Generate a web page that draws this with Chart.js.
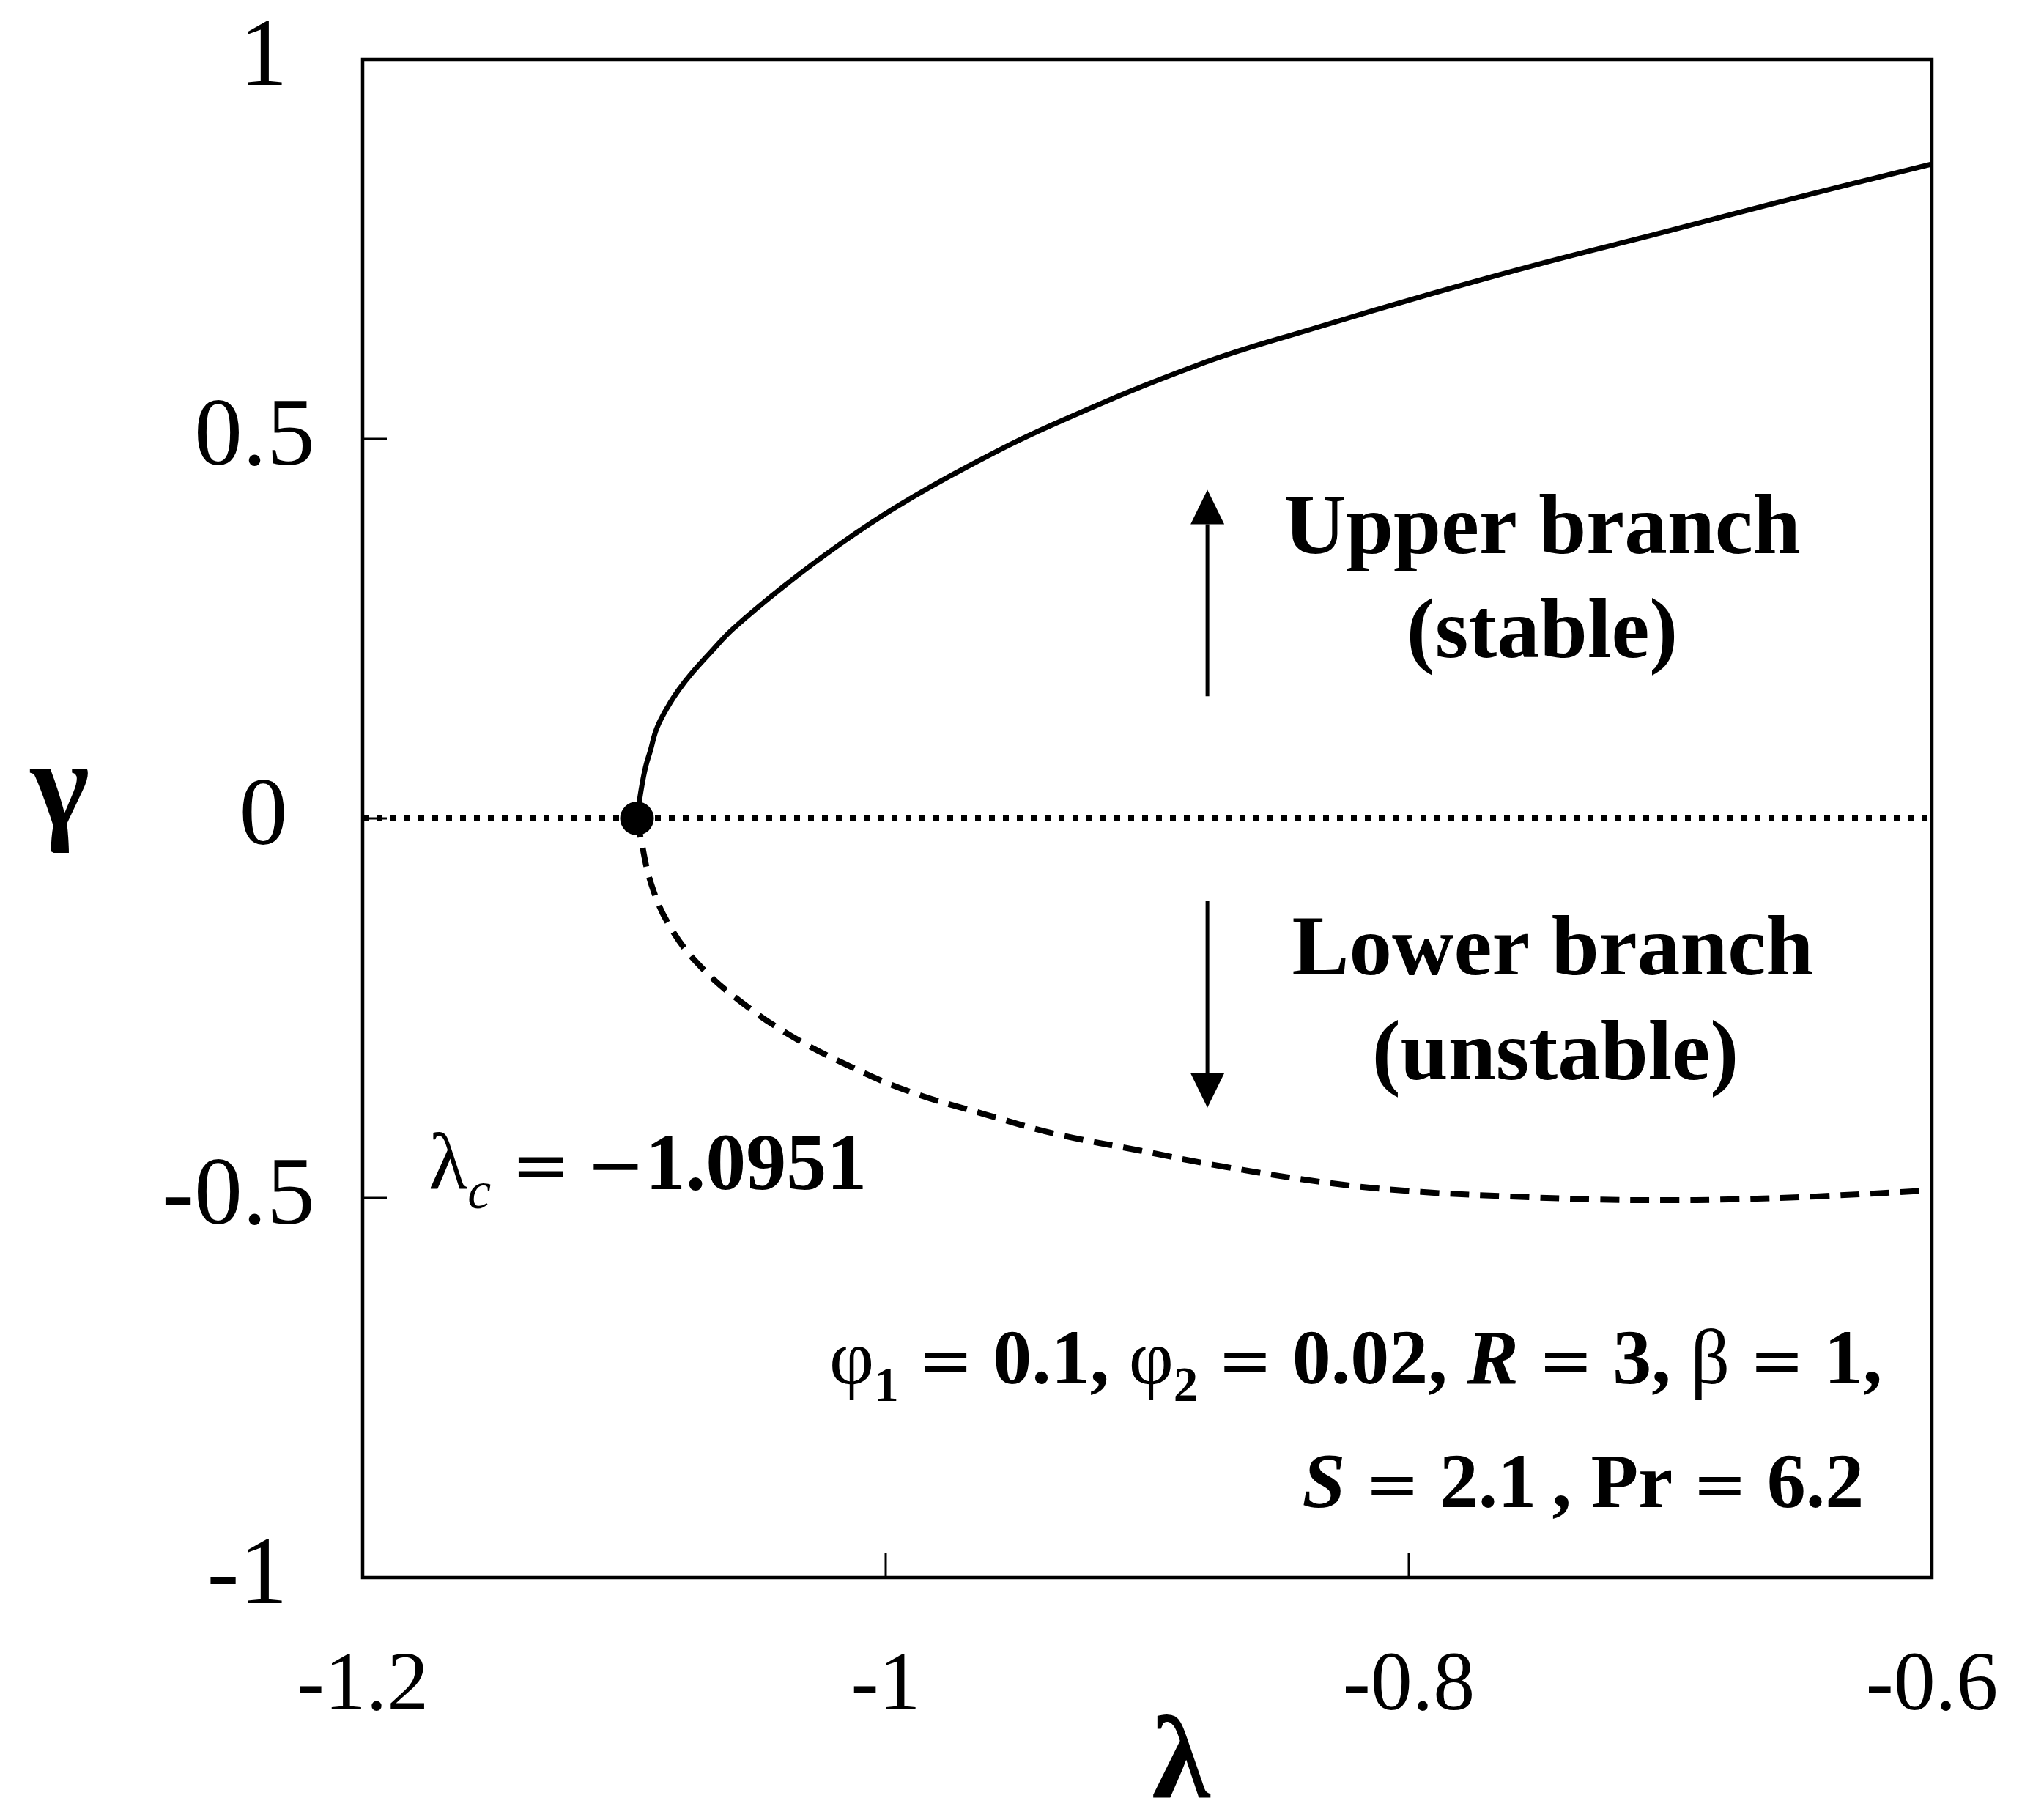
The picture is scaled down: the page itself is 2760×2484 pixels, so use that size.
<!DOCTYPE html>
<html lang="en">
<head>
<meta charset="UTF-8">
<title>Upper and lower branch solutions</title>
<script src="https://cdn.jsdelivr.net/npm/chart.js"></script>
<style>
  html, body { margin: 0; padding: 0; background: #fff; }
  #wrap { width: 2760px; height: 2484px; }
</style>
</head>
<body>
<div id="wrap"><canvas id="chart" width="2760" height="2484"></canvas></div>
<script>
// values
const upperLambda = [-1.0951, -1.0935, -1.0918, -1.0900, -1.0875, -1.0830, -1.0788, -1.0745, -1.0669, -1.0583,
                     -1.0389, -1.0176, -0.9961, -0.9695, -0.9353, -0.8801, -0.8359, -0.7916, -0.7473, -0.7028, -0.6585, -0.6];
const upperGamma  = [0, 0.038, 0.068, 0.089, 0.119, 0.149, 0.171, 0.190, 0.219, 0.250,
                     0.306, 0.361, 0.410, 0.462, 0.520, 0.598, 0.646, 0.691, 0.733, 0.772, 0.812, 0.862];

const lowerLambda = [-1.0951, -1.0938, -1.0896, -1.0824, -1.0711, -1.0552, -1.0359, -1.0134, -0.9908, -0.9619, -0.9345,
                     -0.9022, -0.8703, -0.8289, -0.7952, -0.7616, -0.7280, -0.7028, -0.6776, -0.6443, -0.6];
const lowerGamma  = [0, -0.024, -0.087, -0.143, -0.194, -0.242, -0.287, -0.327, -0.360, -0.390, -0.416,
                     -0.438, -0.459, -0.481, -0.492, -0.498, -0.502, -0.503, -0.502, -0.498, -0.490];

const baseLambda = [-1.2, -0.6];
const baseGamma = [0, 0];

const criticalLambda = [-1.0951];
const criticalGamma = [0];

const xTicks = [-1.2, -1, -0.8, -0.6];
const xTickLabels = ['-1.2', '-1', '-0.8', '-0.6'];
const yTicks = [-1, -0.5, 0, 0.5, 1];
const yTickLabels = ['-1', '-0.5', '0', '0.5', '1'];

const SERIF = '"Liberation Serif", "Times New Roman", serif';
const R = s => s + 'px ' + SERIF;
const B = s => 'bold ' + s + 'px ' + SERIF;
const I = s => 'italic ' + s + 'px ' + SERIF;
const BI = s => 'italic bold ' + s + 'px ' + SERIF;
const OP = s => s + 'px "DejaVu Serif", serif';   // wide "=" and minus signs

function toPoints(xs, ys) {
    return xs.map((x, i) => ({ x: x, y: ys[i] }));
}

// draws a row of text pieces with their own fonts, [text, font, yShift]
function drawRuns(ctx, runs, x, y, align) {
    let w = 0;
    runs.forEach(r => { ctx.font = r[1]; w += ctx.measureText(r[0]).width; });
    let cx = align === 'right' ? x - w : (align === 'center' ? x - w / 2 : x);
    ctx.textAlign = 'left';
    ctx.textBaseline = 'alphabetic';
    runs.forEach(r => {
        ctx.font = r[1];
        ctx.fillText(r[0], cx, y + (r[2] || 0));
        cx += ctx.measureText(r[0]).width;
    });
}

function arrow(ctx, x, y0, y1) {
    const dir = y1 < y0 ? -1 : 1;
    const head = 47;
    ctx.beginPath();
    ctx.moveTo(x, y0);
    ctx.lineTo(x, y1 - dir * head);
    ctx.lineWidth = 5;
    ctx.stroke();
    ctx.beginPath();
    ctx.moveTo(x, y1);
    ctx.lineTo(x - 23, y1 - dir * head);
    ctx.lineTo(x + 23, y1 - dir * head);
    ctx.closePath();
    ctx.fill();
}

function noOverflow(s) {
    s.paddingLeft = 0;
    s.paddingRight = 0;
    s.paddingTop = 0;
    s.paddingBottom = 0;
}

const framePlugin = {
    id: 'frame',
    afterDatasetsDraw(chart) {
        const ctx = chart.ctx;
        const a = chart.chartArea;
        const xs = chart.scales.x, ys = chart.scales.y;
        ctx.save();
        ctx.strokeStyle = '#000';
        // inward ticks
        ctx.lineWidth = 3;
        ctx.beginPath();
        xTicks.forEach(v => {
            const px = xs.getPixelForValue(v);
            ctx.moveTo(px, a.bottom);
            ctx.lineTo(px, a.bottom - 33);
        });
        yTicks.forEach(v => {
            const py = ys.getPixelForValue(v);
            ctx.moveTo(a.left, py);
            ctx.lineTo(a.left + 33, py);
        });
        ctx.stroke();
        ctx.lineWidth = 4.5;
        ctx.strokeRect(a.left, a.top, a.right - a.left, a.bottom - a.top);
        ctx.restore();
    },
    afterDraw(chart) {
        const ctx = chart.ctx;
        const xs = chart.scales.x, ys = chart.scales.y;
        const X = v => xs.getPixelForValue(v);
        const Y = v => ys.getPixelForValue(v);
        ctx.save();
        ctx.fillStyle = '#000';
        ctx.strokeStyle = '#000';

        // axis titles
        drawRuns(ctx, [['γ', B(172)]], 82, 1128, 'center');
        drawRuns(ctx, [['λ', B(162)]], 1612, 2453, 'center');

        // branch labels and arrows
        drawRuns(ctx, [['Upper branch', B(117)]], X(-0.749), Y(0.3495), 'center');
        drawRuns(ctx, [['(stable)', B(117)]], X(-0.749), Y(0.2125), 'center');
        drawRuns(ctx, [['Lower branch', B(117)]], X(-0.745), Y(-0.2056), 'center');
        drawRuns(ctx, [['(unstable)', B(117)]], X(-0.744), Y(-0.3436), 'center');
        arrow(ctx, X(-0.877), Y(0.161), Y(0.433));
        arrow(ctx, X(-0.877), Y(-0.109), Y(-0.381));

        // critical value
        drawRuns(ctx, [
            ['λ', R(110)], ['c', I(72), 26], [' ', R(110)], ['=', OP(96)], ['\u2009', R(110)], ['−', OP(96)], ['1.0951', B(110)]
        ], X(-1.1748), Y(-0.4884), 'left');

        // parameters
        const f = 106, fs = 67;
        drawRuns(ctx, [
            ['φ', R(f)], ['1', B(fs), 24], [' ', R(f)], ['=', OP(90)], [' ', R(f)], ['0.1, ', B(f)],
            ['φ', R(f)], ['2', B(fs), 24], [' ', R(f)], ['=', OP(90)], [' ', R(f)], ['0.02, ', B(f)],
            ['R', BI(f)], [' ', R(f)], ['=', OP(90)], [' ', R(f)], ['3, ', B(f)],
            ['β', R(f)], [' ', R(f)], ['=', OP(90)], [' ', R(f)], ['1,', B(f)]
        ], X(-0.619), Y(-0.744), 'right');
        drawRuns(ctx, [
            ['S', BI(f)], [' ', R(f)], ['=', OP(90)], [' ', R(f)], ['2.1', B(f)], ['\u2009, ', B(f)],
            ['Pr', B(f)], [' ', R(f)], ['=', OP(90)], [' ', R(f)], ['6.2', B(f)]
        ], X(-0.626), Y(-0.907), 'right');
        ctx.restore();
    }
};

new Chart(document.getElementById('chart'), {
    type: 'scatter',
    data: {
        datasets: [
            {
                label: 'critical point',
                data: toPoints(criticalLambda, criticalGamma),
                pointRadius: 23,
                pointBackgroundColor: '#000',
                pointBorderWidth: 0,
                showLine: false,
                clip: false,
                order: 0
            },
            {
                label: 'upper branch',
                data: toPoints(upperLambda, upperGamma),
                showLine: true,
                borderColor: '#000',
                borderWidth: 7,
                pointRadius: 0,
                tension: 0.4,
                order: 1
            },
            {
                label: 'lower branch',
                data: toPoints(lowerLambda, lowerGamma),
                showLine: true,
                borderColor: '#000',
                borderWidth: 8,
                borderDash: [26, 15],
                pointRadius: 0,
                tension: 0.4,
                order: 1
            },
            {
                label: 'gamma = 0',
                data: toPoints(baseLambda, baseGamma),
                showLine: true,
                borderColor: '#000',
                borderWidth: 8,
                borderDash: [8, 11],
                borderCapStyle: 'butt',
                pointRadius: 0,
                order: 2
            }
        ]
    },
    options: {
        responsive: false,
        devicePixelRatio: 1,
        animation: false,
        layout: { padding: { top: 81, right: 123, bottom: 0, left: 0 } },
        plugins: {
            legend: { display: false },
            tooltip: { enabled: false }
        },
        scales: {
            x: {
                type: 'linear',
                min: -1.2,
                max: -0.6,
                grid: { display: false },
                border: { display: false },
                afterBuildTicks: s => { s.ticks = xTicks.map(v => ({ value: v })); },
                afterFit: s => { s.height = 331; noOverflow(s); },
                ticks: {
                    color: '#000',
                    font: { family: SERIF, size: 114 },
                    padding: 74,
                    maxRotation: 0,
                    autoSkip: false,
                    callback: v => xTickLabels[xTicks.indexOf(v)]
                }
            },
            y: {
                type: 'linear',
                min: -1,
                max: 1,
                grid: { display: false },
                border: { display: false },
                afterBuildTicks: s => { s.ticks = yTicks.map(v => ({ value: v })); },
                afterFit: s => { s.width = 495; noOverflow(s); },
                ticks: {
                    color: '#000',
                    font: { family: SERIF, size: 132 },
                    padding: 57,
                    // whole numbers sit a little left of the decimal ones
                    callback: v => {
                        const t = yTickLabels[yTicks.indexOf(v)];
                        return t.indexOf('.') < 0 ? t + '\u2009\u200A' : t;
                    }
                }
            }
        }
    },
    plugins: [framePlugin]
});
</script>
</body>
</html>
